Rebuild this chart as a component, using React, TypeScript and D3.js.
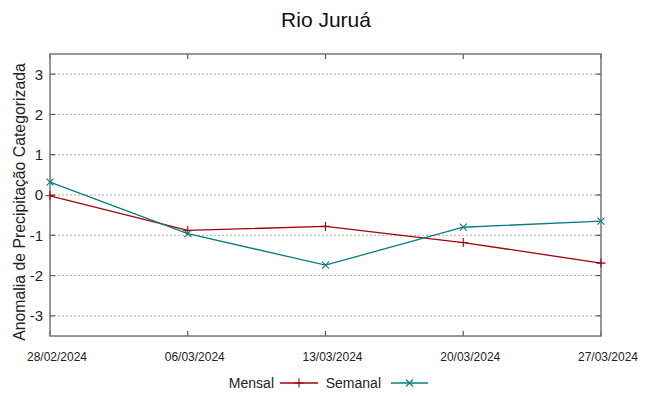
import { useEffect, useRef } from "react";
import * as d3 from "d3";

const dates = ["28/02/2024", "06/03/2024", "13/03/2024", "20/03/2024", "27/03/2024"];
const mensal = [-0.02, -0.88, -0.78, -1.18, -1.69];
const semanal = [0.32, -0.96, -1.74, -0.8, -0.65];
const yTicks = [-3, -2, -1, 0, 1, 2, 3];

const W = 649;
const H = 396;
const margin = { top: 54, right: 48, bottom: 60, left: 50 };
const FONT = "'Liberation Sans', Arial, sans-serif";
const RED = "#a3000f";
const TEAL = "#0b7c7c";

export default function App() {
  const svgRef = useRef(null);

  useEffect(() => {
    const svg = d3.select(svgRef.current);
    svg.selectAll("*").remove();

    const parse = d3.timeParse("%d/%m/%Y");
    const fmt = d3.timeFormat("%d/%m/%Y");
    const xs = dates.map((d) => parse(d));

    const x = d3
      .scaleTime()
      .domain(d3.extent(xs))
      .range([margin.left, W - margin.right]);
    const y = d3
      .scaleLinear()
      .domain([-3.5, 3.5])
      .range([H - margin.bottom, margin.top]);

    const [x0, x1] = x.range();
    const [y0, y1] = y.range();

    // grid
    svg
      .append("g")
      .selectAll("line")
      .data(yTicks)
      .enter()
      .append("line")
      .attr("x1", x0)
      .attr("x2", x1)
      .attr("y1", (d) => y(d))
      .attr("y2", (d) => y(d))
      .attr("stroke", "#aaa")
      .attr("stroke-width", 1)
      .attr("stroke-dasharray", "2,2");

    // ticks (inside, mirrored)
    const ticks = svg.append("g").attr("stroke", "#555").attr("stroke-width", 1.2);
    yTicks.forEach((t) => {
      ticks.append("line").attr("x1", x0).attr("x2", x0 + 5).attr("y1", y(t)).attr("y2", y(t));
      ticks.append("line").attr("x1", x1 - 5).attr("x2", x1).attr("y1", y(t)).attr("y2", y(t));
    });
    xs.forEach((t) => {
      ticks.append("line").attr("x1", x(t)).attr("x2", x(t)).attr("y1", y0).attr("y2", y0 - 5);
      ticks.append("line").attr("x1", x(t)).attr("x2", x(t)).attr("y1", y1).attr("y2", y1 + 5);
    });

    // frame
    svg
      .append("rect")
      .attr("x", x0)
      .attr("y", y1)
      .attr("width", x1 - x0)
      .attr("height", y0 - y1)
      .attr("fill", "none")
      .attr("stroke", "#777")
      .attr("stroke-width", 1.5);

    // tick labels
    svg
      .append("g")
      .selectAll("text")
      .data(yTicks)
      .enter()
      .append("text")
      .attr("x", x0 - 7)
      .attr("y", (d) => y(d))
      .attr("dy", "0.36em")
      .attr("text-anchor", "end")
      .attr("font-family", FONT)
      .attr("font-size", 15)
      .attr("fill", "#222")
      .text((d) => d);

    svg
      .append("g")
      .selectAll("text")
      .data(xs)
      .enter()
      .append("text")
      .attr("x", (d) => x(d) + 7)
      .attr("y", y0 + 25)
      .attr("text-anchor", "middle")
      .attr("font-family", FONT)
      .attr("font-size", 12)
      .attr("fill", "#222")
      .text((d) => fmt(d));

    // series
    const series = [
      { name: "Mensal", values: mensal, color: RED, mark: "plus" },
      { name: "Semanal", values: semanal, color: TEAL, mark: "cross" },
    ];

    const markPath = (mark, cx, cy, s) =>
      mark === "plus"
        ? `M${cx - s},${cy}L${cx + s},${cy}M${cx},${cy - s}L${cx},${cy + s}`
        : `M${cx - s},${cy - s}L${cx + s},${cy + s}M${cx - s},${cy + s}L${cx + s},${cy - s}`;

    series.forEach((s) => {
      const line = d3
        .line()
        .x((d, i) => x(xs[i]))
        .y((d) => y(d));
      svg
        .append("path")
        .attr("d", line(s.values))
        .attr("fill", "none")
        .attr("stroke", s.color)
        .attr("stroke-width", 1.3);
      svg
        .append("g")
        .selectAll("path")
        .data(s.values)
        .enter()
        .append("path")
        .attr("d", (d, i) => markPath(s.mark, x(xs[i]), y(d), s.mark === "plus" ? 4.5 : 3.5))
        .attr("stroke", s.color)
        .attr("stroke-width", 1.1);
    });

    // legend
    const legend = svg.append("g").attr("font-family", FONT).attr("font-size", 14);
    const ly = 383;
    const items = [
      { s: series[0], tx: 274, lx0: 280, lx1: 318 },
      { s: series[1], tx: 381, lx0: 391, lx1: 428 },
    ];
    items.forEach(({ s, tx, lx0, lx1 }) => {
      legend
        .append("text")
        .attr("x", tx)
        .attr("y", ly)
        .attr("dy", "0.36em")
        .attr("text-anchor", "end")
        .attr("fill", "#222")
        .text(s.name);
      legend
        .append("line")
        .attr("x1", lx0)
        .attr("x2", lx1)
        .attr("y1", ly)
        .attr("y2", ly)
        .attr("stroke", s.color)
        .attr("stroke-width", 1.3);
      legend
        .append("path")
        .attr("d", markPath(s.mark, (lx0 + lx1) / 2, ly, s.mark === "plus" ? 4.5 : 3.5))
        .attr("stroke", s.color)
        .attr("stroke-width", 1.1);
    });

    // title
    svg
      .append("text")
      .attr("x", 326)
      .attr("y", 27)
      .attr("text-anchor", "middle")
      .attr("font-family", FONT)
      .attr("font-size", 21)
      .attr("fill", "#111")
      .text("Rio Juruá");

    // y label
    svg
      .append("text")
      .attr("transform", `translate(25,202) rotate(-90)`)
      .attr("text-anchor", "middle")
      .attr("font-family", FONT)
      .attr("font-size", 15.8)
      .attr("fill", "#222")
      .text("Anomalia de Precipitação Categorizada");
  }, []);

  return (
    <div style={{ position: "absolute", left: 0, top: 0 }}>
      <svg ref={svgRef} width={W} height={H} style={{ display: "block", background: "#fff" }}></svg>
    </div>
  );
}
